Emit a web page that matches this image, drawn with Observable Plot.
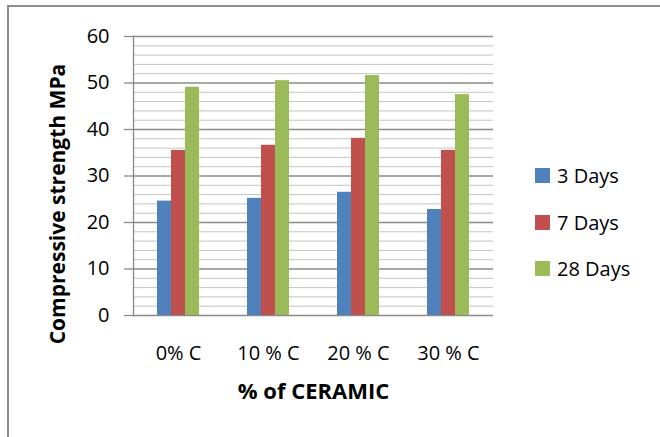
<!DOCTYPE html>
<html>
<head>
<meta charset="utf-8">
<script src="https://cdn.jsdelivr.net/npm/d3@7"></script>
<script src="https://cdn.jsdelivr.net/npm/@observablehq/plot@0.6"></script>
<style>
  html, body { margin: 0; padding: 0; background: #fff; overflow: hidden; }
  body { width: 660px; height: 437px; position: relative; font-family: "Open Sans", sans-serif; }
  #border { position: absolute; left: 7px; top: 5px; width: 800px; height: 600px; border-top: 2px solid #8c8c8c; border-left: 2px solid #8c8c8c; box-sizing: border-box; }
  #chart { position: absolute; left: 0; top: 0; }
  #legend { position: absolute; left: 535px; top: 0; }
  .item { position: absolute; left: 0; display: flex; align-items: center; white-space: nowrap; font-size: 20px; color: #000; }
  .sw { width: 15px; height: 15px; margin-right: 7px; }
  #ytitle { position: absolute; left: 57px; top: 204px; transform: translate(-50%, -50%) rotate(-90deg); white-space: nowrap; font-weight: bold; font-size: 21px; line-height: 1; color: #000; }
</style>
</head>
<body>
<div id="border"></div>
<div id="chart"></div>
<div id="legend"></div>
<div id="ytitle"></div>
<script>
const categories = ["0% C", "10 % C", "20 % C", "30 % C"];
const series = ["3 Days", "7 Days", "28 Days"];
const days3 = [24.6, 25.2, 26.5, 22.8];
const days7 = [35.5, 36.6, 38.1, 35.5];
const days28 = [49.1, 50.5, 51.6, 47.5];
const colors = ["#4f81bd", "#c0504d", "#9bbb59"];
const majorTicks = [0, 10, 20, 30, 40, 50, 60];
const minorTicks = [2, 4, 6, 8, 12, 14, 16, 18, 22, 24, 26, 28, 32, 34, 36, 38, 42, 44, 46, 48, 52, 54, 56, 58];
const yTitle = "Compressive strength MPa";
const xTitle = "% of CERAMIC";

const seriesValues = [days3, days7, days28];
const data = [];
categories.forEach((c, i) => series.forEach((s, j) => data.push({category: c, series: s, value: seriesValues[j][i]})));

const chart = Plot.plot({
  width: 660,
  height: 437,
  marginLeft: 133,
  marginRight: 167,
  marginTop: 36,
  marginBottom: 122,
  style: {fontFamily: "Open Sans, sans-serif", background: "transparent"},
  fx: {domain: categories, padding: 0},
  x: {domain: series, paddingInner: 0, paddingOuter: 1.56, axis: null},
  y: {domain: [0, 60]},
  color: {domain: series, range: colors},
  marks: [
    Plot.ruleY(minorTicks, {stroke: "#c3c3c3", strokeWidth: 1}),
    Plot.ruleY(majorTicks, {stroke: "#8a8a8a", strokeWidth: 1.3}),
    Plot.frame({anchor: "left", facet: "super", stroke: "#8a8a8a", strokeWidth: 1.3}),
    Plot.barY(data, {fx: "category", x: "series", y: "value", fill: "series"}),
    Plot.axisY(majorTicks, {tickSize: 9, tickPadding: 15, stroke: "#8a8a8a", strokeWidth: 1.3, fill: "#000", fontSize: 20, label: null}),
    Plot.axisFx({anchor: "bottom", tickSize: 0, tickPadding: 30, fontSize: 20, fill: "#000", label: null}),
    Plot.text([xTitle], {facet: "super", frameAnchor: "bottom", dy: 83, fontSize: 22, fontWeight: "bold", fill: "#000"})
  ]
});
document.getElementById("chart").appendChild(chart);
document.getElementById("ytitle").textContent = yTitle;

const legend = document.getElementById("legend");
const rowTops = [175, 222, 268];
series.forEach((s, i) => {
  const item = document.createElement("div");
  item.className = "item";
  item.style.top = (rowTops[i] - 14) + "px";
  item.style.height = "28px";
  const sw = document.createElement("div");
  sw.className = "sw";
  sw.style.background = colors[i];
  const t = document.createElement("span");
  t.textContent = s;
  item.appendChild(sw);
  item.appendChild(t);
  legend.appendChild(item);
});
</script>
</body>
</html>
